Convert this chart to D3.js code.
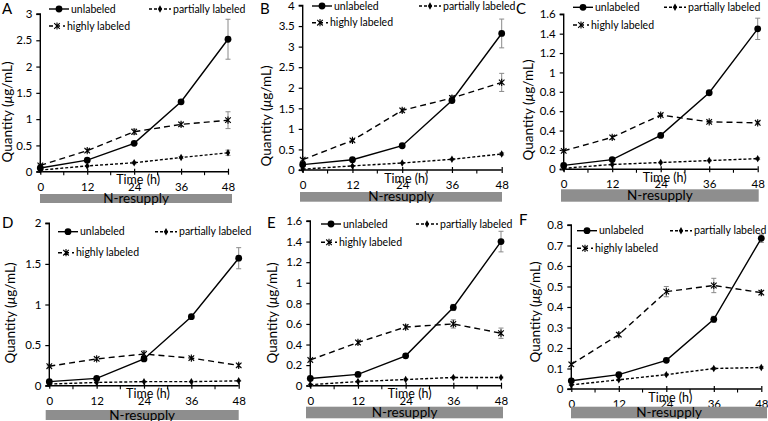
<!DOCTYPE html>
<html><head><meta charset="utf-8">
<script src="https://cdn.jsdelivr.net/npm/d3@7"></script>
<style>
html,body{margin:0;padding:0;background:#fff;}
svg{display:block;font-family:Lato,"Open Sans",sans-serif;}
</style></head>
<body>
<svg id="chart" width="768" height="421"></svg>
<script>
// ---------- data ----------
const times = [0, 12, 24, 36, 48];
const timeTickLabels = ["0", "12", "24", "36", "48"];
const minorTimes = [6, 18, 30, 42];
const panelLetters = ["A", "B", "C", "D", "E", "F"];
const seriesNames = ["unlabeled", "partially labeled", "highly labeled"];
const xTitle = "Time (h)";
const barLabel = "N-resupply";
const yMax = [3, 4, 1.6, 2, 1.6, 0.8];
const yTicks = [
  [0, 0.5, 1, 1.5, 2, 2.5, 3],
  [0, 0.5, 1, 1.5, 2, 2.5, 3, 3.5, 4],
  [0, 0.2, 0.4, 0.6, 0.8, 1, 1.2, 1.4, 1.6],
  [0, 0.5, 1, 1.5, 2],
  [0, 0.2, 0.4, 0.6, 0.8, 1, 1.2, 1.4, 1.6],
  [0, 0.1, 0.2, 0.3, 0.4, 0.5, 0.6, 0.7, 0.8]
];
const unlabeled = [
  [0.07, 0.22, 0.54, 1.33, 2.52],
  [0.13, 0.25, 0.59, 1.69, 3.32],
  [0.04, 0.10, 0.35, 0.79, 1.45],
  [0.05, 0.09, 0.33, 0.85, 1.57],
  [0.07, 0.11, 0.29, 0.76, 1.40],
  [0.04, 0.07, 0.14, 0.34, 0.735]
];
const unlabeledErr = [
  [0.02, 0.02, 0.03, 0.04, 0.38],
  [0.02, 0.02, 0.03, 0.05, 0.35],
  [0.01, 0.01, 0.01, 0.02, 0.11],
  [0.01, 0.01, 0.02, 0.02, 0.13],
  [0.01, 0.01, 0.02, 0.03, 0.10],
  [0.005, 0.005, 0.01, 0.015, 0.02]
];
const partially = [
  [0.03, 0.11, 0.17, 0.27, 0.36],
  [0.02, 0.10, 0.17, 0.26, 0.39],
  [0.01, 0.05, 0.07, 0.09, 0.11],
  [0.02, 0.04, 0.05, 0.05, 0.06],
  [0.01, 0.04, 0.06, 0.08, 0.08],
  [0.02, 0.045, 0.07, 0.10, 0.105]
];
const partiallyErr = [
  [0.01, 0.01, 0.02, 0.02, 0.05],
  [0.01, 0.01, 0.01, 0.02, 0.03],
  [0.005, 0.005, 0.005, 0.005, 0.01],
  [0.005, 0.005, 0.005, 0.005, 0.005],
  [0.005, 0.005, 0.005, 0.005, 0.005],
  [0.003, 0.003, 0.004, 0.005, 0.005]
];
const highly = [
  [0.12, 0.40, 0.76, 0.90, 0.98],
  [0.25, 0.72, 1.45, 1.75, 2.13],
  [0.19, 0.33, 0.56, 0.49, 0.48],
  [0.24, 0.33, 0.39, 0.34, 0.25],
  [0.25, 0.42, 0.57, 0.60, 0.51],
  [0.12, 0.265, 0.475, 0.505, 0.47]
];
const highlyErr = [
  [0.02, 0.03, 0.05, 0.04, 0.16],
  [0.03, 0.04, 0.05, 0.06, 0.22],
  [0.01, 0.02, 0.01, 0.01, 0.01],
  [0.01, 0.02, 0.04, 0.02, 0.02],
  [0.01, 0.02, 0.02, 0.04, 0.05],
  [0.01, 0.01, 0.025, 0.035, 0.01]
];

// ---------- layout ----------
// plot box: left, right, top (y at max), bottom (y = 0)
const plotBox = [
  [40.3, 228, 14, 171.7],
  [302.7, 501.7, 5.5, 170],
  [563.7, 757.7, 14.3, 169.3],
  [49.3, 238.7, 223.3, 385.7],
  [310.3, 501, 221, 385.7],
  [571.3, 761.3, 225, 389]
];
// N-resupply bar: x0, x1, y0, y1
const barBox = [
  [40, 232, 194, 203],
  [300, 502, 192, 201.7],
  [561, 758.7, 189.3, 201.7],
  [45.7, 238.7, 410, 420],
  [306, 503, 406.7, 418.3],
  [571, 767, 406.7, 418.3]
];
// legend: sample x start, row1 y, partial sample x start, row2 y
const legendPos = [
  [49, 9, 149, 26],
  [312, 6, 419, 22.7],
  [573, 7.3, 664, 25],
  [58, 231.7, 155, 252.7],
  [321, 224, 416, 242.3],
  [577, 230.7, 670, 248.3]
];
// letter x, baseline
const letterPos = [[2, 14], [260, 14], [516, 14], [2, 228], [267, 228], [519, 225]];
// y title: baseline x, center y
const yTitlePos = [[12, 112], [271, 116], [533, 110], [15, 313], [277, 313], [540, 312]];

const svg = d3.select("#chart");
const errColor = "#8a8a8a";

function starPath(s) {
  return `M${-s},${-s}L${s},${s}M${-s},${s}L${s},${-s}M0,${-s - 0.8}L0,${s + 0.8}`;
}

function drawMarker(g, type, x, y) {
  if (type === 0) {
    g.append("circle").attr("cx", x).attr("cy", y).attr("r", 3.4).attr("fill", "#000");
  } else if (type === 1) {
    g.append("path").attr("d", d3.symbol(d3.symbolDiamond, 16)()).attr("transform", `translate(${x},${y})`).attr("fill", "#000");
  } else {
    g.append("path").attr("d", starPath(2.8)).attr("transform", `translate(${x},${y})`)
      .attr("stroke", "#000").attr("stroke-width", 1.1).attr("fill", "none");
  }
}

const dashes = [null, "3,2", "6,4"];

for (let p = 0; p < 6; p++) {
  const [L, R, T, B] = plotBox[p];
  const g = svg.append("g");
  const x = d3.scaleLinear().domain([0, 48]).range([L, R]);
  const y = d3.scaleLinear().domain([0, yMax[p]]).range([B, T]);

  // y axis
  const yAxis = d3.axisLeft(y).tickValues(yTicks[p]).tickSize(4).tickPadding(4)
    .tickFormat(d => String(+d.toFixed(2)));
  const ya = g.append("g").attr("transform", `translate(${L},0)`).call(yAxis);
  ya.select(".domain").attr("stroke", "#000").attr("stroke-width", 1.4).attr("d", `M-4,${T}H0V${B}H-4`);
  ya.selectAll(".tick line").attr("stroke", "#000").attr("stroke-width", 1.2);
  ya.selectAll(".tick text").attr("font-size", 11.5).attr("fill", "#000").attr("font-family", "Lato, sans-serif");

  // x axis
  const xAxis = d3.axisBottom(x).tickValues(times).tickSize(3).tickPadding(5)
    .tickFormat((d, i) => timeTickLabels[i]);
  const xa = g.append("g").attr("transform", `translate(0,${B})`).call(xAxis);
  xa.select(".domain").attr("stroke", "#000").attr("stroke-width", 1.4).attr("d", `M${L},0H${R}`);
  xa.selectAll(".tick line").attr("stroke", "#000").attr("stroke-width", 1.2).attr("y1", -3).attr("y2", 3);
  xa.selectAll(".tick text").attr("font-size", 11.5).attr("fill", "#000").attr("dy", "0.95em").attr("font-family", "Lato, sans-serif");
  g.selectAll(".minor").data(minorTimes).enter().append("line")
    .attr("x1", d => x(d)).attr("x2", d => x(d)).attr("y1", B).attr("y2", B + 3.5)
    .attr("stroke", "#000").attr("stroke-width", 1.1);

  // x title
  g.append("text").attr("x", (L + R) / 2 + 4).attr("y", B + 12.5).attr("text-anchor", "middle")
    .attr("font-size", 12.5).attr("fill", "#000").text(xTitle);

  // bar
  const [bx0, bx1, by0, by1] = barBox[p];
  g.append("rect").attr("x", bx0).attr("y", by0).attr("width", bx1 - bx0).attr("height", by1 - by0).attr("fill", "#8e8e8e");
  g.append("text").attr("x", (bx0 + bx1) / 2).attr("y", (by0 + by1) / 2 + 4.5).attr("text-anchor", "middle")
    .attr("font-size", 13.5).attr("fill", "#000").text(barLabel);

  // y title
  const [tx, ty] = yTitlePos[p];
  const yt = g.append("text").attr("transform", `translate(${tx},${ty}) rotate(-90)`).attr("text-anchor", "middle")
    .attr("font-size", 13.5).attr("fill", "#000");
  yt.append("tspan").text("Quantity (");
  yt.append("tspan").attr("font-style", "italic").text("μ");
  yt.append("tspan").text("g/mL)");

  // letter
  g.append("text").attr("x", letterPos[p][0]).attr("y", letterPos[p][1]).attr("font-size", 15).attr("fill", "#000").text(panelLetters[p]);

  // series
  const series = [
    { vals: unlabeled[p], err: unlabeledErr[p] },
    { vals: partially[p], err: partiallyErr[p] },
    { vals: highly[p], err: highlyErr[p] }
  ];
  const line = d3.line().x((d, i) => x(times[i])).y(d => y(d));
  series.forEach((s, k) => {
    s.vals.forEach((v, i) => {
      const cx = x(times[i]);
      const y1 = y(v + s.err[i]), y2 = y(Math.max(0, v - s.err[i]));
      g.append("path").attr("d", `M${cx},${y1}V${y2}M${cx - 2.5},${y1}H${cx + 2.5}M${cx - 2.5},${y2}H${cx + 2.5}`)
        .attr("stroke", errColor).attr("stroke-width", 1).attr("fill", "none");
    });
  });
  series.forEach((s, k) => {
    g.append("path").datum(s.vals).attr("d", line).attr("fill", "none").attr("stroke", "#000")
      .attr("stroke-width", 1.4).attr("stroke-dasharray", dashes[k]);
    s.vals.forEach((v, i) => drawMarker(g, k, x(times[i]), y(v)));
  });

  // legend
  const [lx, ly1, px, ly2] = legendPos[p];
  const sampleW = [20, 22, 16];
  const legendItems = [[lx, ly1], [px, ly1], [lx, ly2]];
  legendItems.forEach(([sx, sy], k) => {
    const w = sampleW[k];
    g.append("line").attr("x1", sx).attr("x2", sx + w).attr("y1", sy).attr("y2", sy)
      .attr("stroke", "#000").attr("stroke-width", 1.4).attr("stroke-dasharray", dashes[k] ? (k === 2 ? "4,3" : "3,2") : null);
    drawMarker(g, k, sx + w / 2, sy);
    g.append("text").attr("x", sx + w + 2).attr("y", sy + 3.5).attr("font-size", 10.5).attr("fill", "#000").text(seriesNames[k]);
  });
}
</script>
</body></html>
